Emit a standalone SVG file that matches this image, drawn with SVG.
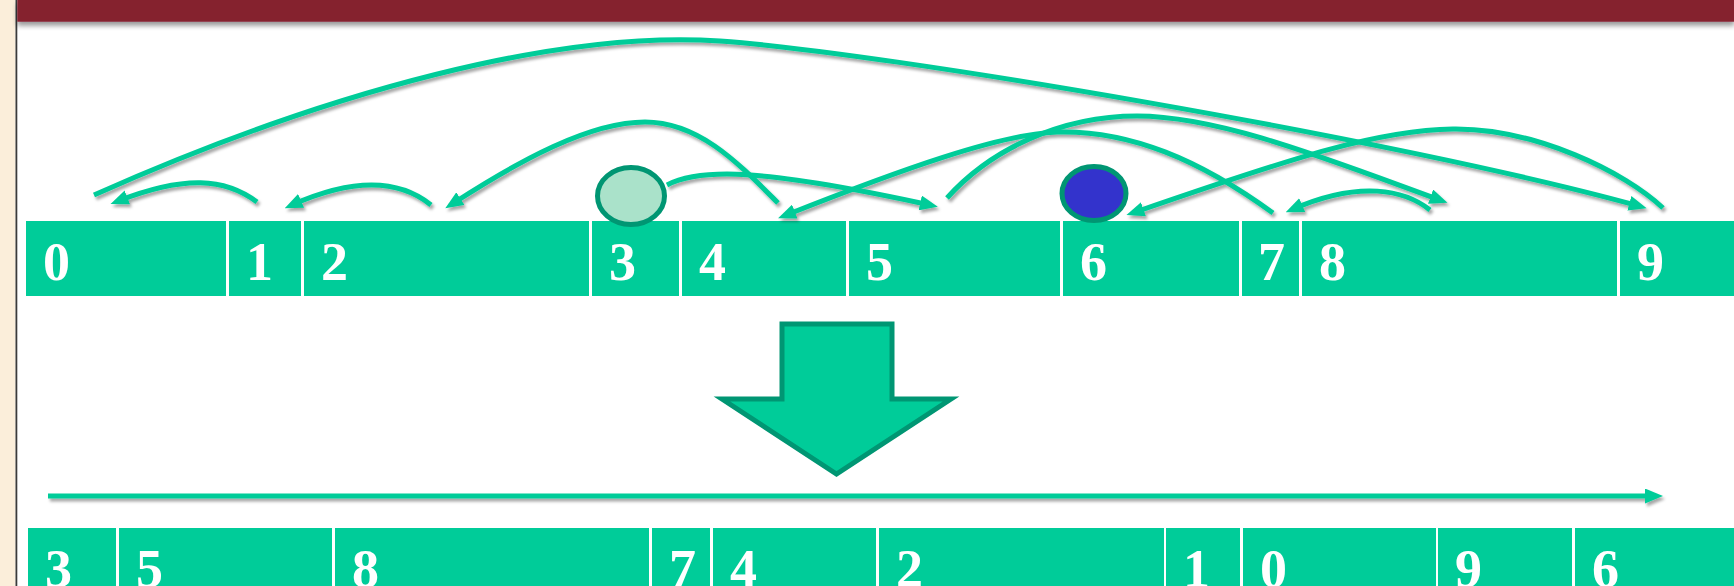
<svg xmlns="http://www.w3.org/2000/svg" width="1734" height="586" viewBox="0 0 1734 586">
  <defs>
    <style>
      .cell { fill: #00CC99; }
      .lbl { fill: #FFFFFF; font-family: "Liberation Serif", "Times New Roman", serif; font-weight: bold; font-size: 54px; }
      .conn { fill: none; stroke: #00CC99; stroke-width: 5; stroke-linecap: butt; marker-end: url(#ah); }
    </style>
    <marker id="ah" viewBox="0 0 18 15" refX="10" refY="7.5" markerWidth="18" markerHeight="15" markerUnits="userSpaceOnUse" orient="auto">
      <path d="M0,0 L18,7.5 L0,15 z" fill="#00CC99"/>
    </marker>
    <filter id="sh" x="-5%" y="-20%" width="110%" height="150%">
      <feDropShadow dx="2" dy="3" stdDeviation="1.6" flood-color="#000000" flood-opacity="0.35"/>
    </filter>
    <filter id="barsh" x="-5%" y="-50%" width="110%" height="200%">
      <feDropShadow dx="0" dy="4" stdDeviation="2.5" flood-color="#000000" flood-opacity="0.4"/>
    </filter>
  </defs>

  <!-- background -->
  <rect x="0" y="0" width="1734" height="586" fill="#FFFFFF"/>
  <rect x="0" y="0" width="15.5" height="586" fill="#FBEEDA"/>
  <rect x="15.5" y="0" width="1.8" height="586" fill="#3A3A3A"/>
  <rect id="topbar" x="17.3" y="0" width="1717" height="21.7" fill="#85202E" filter="url(#barsh)"/>

  <!-- top row -->
  <g id="top-row">
    <g id="t0"><rect class="cell" x="26" y="221" width="200" height="75"/><text class="lbl" x="43" y="280">0</text></g>
    <g id="t1"><rect class="cell" x="229" y="221" width="72" height="75"/><text class="lbl" x="246" y="280">1</text></g>
    <g id="t2"><rect class="cell" x="304" y="221" width="285" height="75"/><text class="lbl" x="321" y="280">2</text></g>
    <g id="t3"><rect class="cell" x="592" y="221" width="87" height="75"/><text class="lbl" x="609" y="280">3</text></g>
    <g id="t4"><rect class="cell" x="682" y="221" width="164" height="75"/><text class="lbl" x="699" y="280">4</text></g>
    <g id="t5"><rect class="cell" x="849" y="221" width="211" height="75"/><text class="lbl" x="866" y="280">5</text></g>
    <g id="t6"><rect class="cell" x="1063" y="221" width="176" height="75"/><text class="lbl" x="1080" y="280">6</text></g>
    <g id="t7"><rect class="cell" x="1242" y="221" width="57" height="75"/><text class="lbl" x="1258" y="280">7</text></g>
    <g id="t8"><rect class="cell" x="1302" y="221" width="315" height="75"/><text class="lbl" x="1319" y="280">8</text></g>
    <g id="t9"><rect class="cell" x="1620" y="221" width="114" height="75"/><text class="lbl" x="1637" y="280">9</text></g>
  </g>

  <!-- connectors -->
  <g id="connectors" filter="url(#sh)">
    <path id="c0-9" class="conn" d="M94,195 C330,90 560,30 720,41 C880,52 1400,140 1639,206"/>
    <path id="c1-0" class="conn" d="M257,202 C225,178 185,175 118,201"/>
    <path id="c2-1" class="conn" d="M431,205 C400,180 355,177 292,205"/>
    <path id="c4-2" class="conn" d="M778,203 C740,165 700,122 645,122 C590,122 520,160 452,204"/>
    <path id="c3-5" class="conn" d="M667,185 C700,168 760,168 930,205"/>
    <path id="c5-8" class="conn" d="M947,198 C990,150 1060,116 1137,116 C1220,116 1330,160 1440,200"/>
    <path id="c8-7" class="conn" d="M1430,210 C1405,190 1360,180 1293,209"/>
    <path id="c7-4" class="conn" d="M1273,213 C1200,160 1130,130 1057,132 C1000,134 900,170 785.5,215.3"/>
    <path id="c9-6" class="conn" d="M1663,208 C1625,172 1535,128 1453,129 C1380,130 1300,155 1134,212.5"/>
    <path id="scan" class="conn" d="M48,496 L1655,496"/>
  </g>

  <!-- head / tail markers -->
  <g id="head">
    <ellipse cx="631" cy="196" rx="33.5" ry="28.5" fill="#AAE2CA" stroke="#009673" stroke-width="5"/>
  </g>
  <g id="tail">
    <ellipse cx="1094" cy="193.5" rx="32" ry="27" fill="#3333CC" stroke="#009673" stroke-width="5"/>
  </g>

  <!-- big down arrow -->
  <g id="down-arrow">
    <polygon points="782,324 892,324 892,399 951,399 836.5,474 722,399 782,399" fill="#00CC99" stroke="#009673" stroke-width="5" stroke-linejoin="miter"/>
  </g>

  <!-- bottom row -->
  <g id="bottom-row">
    <g id="b3"><rect class="cell" x="28" y="528" width="88" height="70"/><text class="lbl" x="45" y="587">3</text></g>
    <g id="b5"><rect class="cell" x="119" y="528" width="213" height="70"/><text class="lbl" x="136" y="587">5</text></g>
    <g id="b8"><rect class="cell" x="335" y="528" width="314" height="70"/><text class="lbl" x="352" y="587">8</text></g>
    <g id="b7"><rect class="cell" x="652" y="528" width="58" height="70"/><text class="lbl" x="669" y="587">7</text></g>
    <g id="b4"><rect class="cell" x="713" y="528" width="163" height="70"/><text class="lbl" x="730" y="587">4</text></g>
    <g id="b2"><rect class="cell" x="879" y="528" width="285" height="70"/><text class="lbl" x="896" y="587">2</text></g>
    <g id="b1"><rect class="cell" x="1166" y="528" width="74" height="70"/><text class="lbl" x="1183" y="587">1</text></g>
    <g id="b0"><rect class="cell" x="1243" y="528" width="193" height="70"/><text class="lbl" x="1260" y="587">0</text></g>
    <g id="b9"><rect class="cell" x="1438" y="528" width="134" height="70"/><text class="lbl" x="1455" y="587">9</text></g>
    <g id="b6"><rect class="cell" x="1575" y="528" width="159" height="70"/><text class="lbl" x="1592" y="587">6</text></g>
  </g>
</svg>
